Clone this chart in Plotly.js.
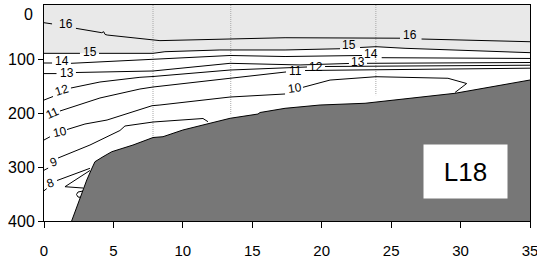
<!DOCTYPE html>
<html><head><meta charset="utf-8">
<script src="https://cdn.plot.ly/plotly-3.0.1.min.js"></script>
<style>html,body{margin:0;padding:0;background:#fff}#chart{width:537px;height:266px}</style>
</head><body><div id="chart"></div>
<script>
// axis ticks
const distanceTicks = [0, 5, 10, 15, 20, 25, 30, 35];
const depthTicks = [100, 200, 300, 400];
const depthTickText = ['100', '200', '300', '400'];
const topDepthLabel = '0';
const stationName = 'L18';

// isotherms (distance km, depth m); null = break for the contour label
const iso16X = [0, 0.58, null, 2.30, 4.16, 4.30, 4.40, 4.55, 5.96, 7.85, 8.35, 17.36, 25.64, null, 27.19, 35];
const iso16Z = [32.8, 35, null, 43.2, 51.3, 49.5, 54.5, 55.6, 59.8, 64.4, 66, 60.6, 61.5, null, 63, 68];
const iso15X = [0, 2.59, null, 3.96, 7.85, 8.71, 12.67, 17.36, 21.32, null, 22.76, 23.91, 26.0, 35];
const iso15Z = [89.5, 89.5, null, 89.5, 89.5, 86.5, 83.3, 83.3, 81, null, 78.7, 77.2, 80.2, 88.3];
const iso14X = [0, 0.58, null, 1.94, 7.85, 13.4, 17.36, 22.9, null, 24.32, 35];
const iso14Z = [107.4, 107.4, null, 108, 100.6, 93.5, 95.4, 93.5, null, 97.6, 99];
const iso13X = [0, 0.9, null, 2.3, 6.91, 7.85, 13.4, 18.44, 21.96, null, 23.26, 35];
const iso13Z = [127, 127, null, 125, 123.5, 122.2, 108, 111, 108.3, null, 108, 106.5];
const iso12X = [0, 0.65, null, 1.94, 4.03, 6.91, 7.85, 13.4, 17.36, 18.94, null, 20.24, 35];
const iso12Z = [176, 169.5, null, 153.7, 142.6, 133.9, 132.4, 120.4, 115.8, 114.8, null, 113.9, 111.5];
const iso11X = [1.15, 4.03, 6.91, 7.85, 13.4, 16.28, 17.43, null, 18.8, 35];
const iso11Z = [196.3, 172.2, 155.6, 151.9, 135.7, 127.8, 124, null, 121.3, 117];
const iso10X = [0, 0.43, null, 1.66, 2.95, 4.54, 6.91, 7.78, 8.35, 13.4, 17.36, null, 18.65, 20.6, 23.91, 29.09, 30.44, 29.6];
const iso10Z = [250, 244, null, 230.6, 220.4, 213, 194.5, 186.5, 185.2, 170.4, 164.8, null, 152.4, 139, 132.8, 135.7, 145.4, 162];
const iso9X = [0, 0.3, null, 1.01, 3.31, 5.47, 5.83, 7.85, 11.45, 11.81];
const iso9Z = [306, 302, null, 283.4, 259.3, 232.4, 224.1, 216.7, 210.2, 216.1];
const iso8X = [0, 0.2, null, 0.94, 3.31, null, 3.31, 1.51, 2.84, null, 2.81, 2.45, 2.34, 2.45, 2.74];
const iso8Z = [344, 340, null, 325, 302.4, null, 306.5, 336.5, 339, null, 344.5, 346.3, 350.9, 355.6, 356.5];

// contour labels
const labelText = ['16', '15', '14', '13', '12', '11', '10', '9', '8', '16', '15', '14', '13', '12', '11', '10'];
const labelX = [1.58, 3.28, 1.26, 1.66, 1.30, 0.61, 1.12, 0.68, 0.50, 26.36, 22.0, 23.55, 22.58, 19.59, 18.08, 18.08];
const labelZ = [34.3, 87, 103, 125, 157.4, 200, 234.6, 290.2, 329.7, 55.6, 74, 90.7, 105.6, 114.3, 122.2, 154.3];
const labelAngle = [0, 0, 0, 0, -18, -25, -12, -20, -20, 0, 0, 0, 0, 0, 0, -8];

// sea floor
const bathyX = [1.99, 2.23, 2.59, 3.08, 3.46, 3.67, 4.25, 4.88, 6.41, 7.85, 8.57, 10.0, 11.45, 13.4, 15.41, 15.56, 17.36, 19.88, 23.12, 25.13, 29.6, 35];
const bathyZ = [400, 383.4, 357.4, 324.1, 301.9, 290.2, 281, 271.7, 259.3, 245.4, 243.9, 231.5, 222.2, 209.8, 201.9, 199.1, 191.3, 185.2, 182, 176, 163.5, 138.9];

// CTD stations
const stationX = [7.85, 13.45, 23.9];
const stationDepth = [245, 204, 167];

const FONT = 'Liberation Sans, Arial, sans-serif';
const traces = [];

// warm layer (>15) shading
const f15 = iso15X.map((x, i) => [x, iso15Z[i]]).filter(p => p[0] !== null);
traces.push({x: f15.map(p => p[0]), y: f15.map(p => p[1]), mode: 'lines', fill: 'tozeroy',
  fillcolor: '#e9e9e9', line: {width: 0}, hoverinfo: 'skip'});

stationX.forEach((s, i) => {
  traces.push({x: [s, s], y: [0, stationDepth[i]], mode: 'lines',
    line: {color: '#a8a8a8', width: 1, dash: '1px,1px'}, hoverinfo: 'skip'});
});

[[iso16X, iso16Z], [iso15X, iso15Z], [iso14X, iso14Z], [iso13X, iso13Z], [iso12X, iso12Z],
 [iso11X, iso11Z], [iso10X, iso10Z], [iso9X, iso9Z], [iso8X, iso8Z]].forEach(([xs, zs]) => {
  traces.push({x: xs, y: zs, mode: 'lines', connectgaps: false,
    line: {color: '#000', width: 1}, hoverinfo: 'skip'});
});

traces.push({x: bathyX, y: bathyX.map(() => 400), mode: 'lines', line: {width: 0}, hoverinfo: 'skip'});
traces.push({x: bathyX, y: bathyZ, mode: 'lines', fill: 'tonexty', fillcolor: '#777777',
  line: {color: '#000', width: 1}, hoverinfo: 'skip'});

const annotations = labelText.map((t, i) => ({
  x: labelX[i], y: labelZ[i], xref: 'x', yref: 'y', text: t, showarrow: false,
  textangle: labelAngle[i], font: {family: FONT, size: 12, color: '#000'},
  xanchor: 'center', yanchor: 'middle'
}));
annotations.push({x: 30.39, y: 308, xref: 'x', yref: 'y', text: stationName, showarrow: false,
  font: {family: FONT, size: 26, color: '#000'}, bgcolor: '#ffffff', width: 83, height: 53,
  borderpad: 0, xanchor: 'center', yanchor: 'middle'});
annotations.push({x: 0, y: 16.7, xref: 'paper', yref: 'y', text: topDepthLabel, showarrow: false,
  font: {family: FONT, size: 16, color: '#000'}, xanchor: 'right', yanchor: 'middle', xshift: -9});

const layout = {
  width: 537, height: 266,
  margin: {l: 44, r: 7, t: 5, b: 45},
  paper_bgcolor: '#fff', plot_bgcolor: '#fff',
  showlegend: false,
  xaxis: {range: [0, 35], tickvals: distanceTicks, ticks: 'outside', ticklen: 6, tickwidth: 1,
    tickcolor: '#000', showline: true, linecolor: '#000', linewidth: 1, mirror: true,
    showgrid: false, zeroline: false, ticklabelstandoff: 10, ticklabeloverflow: 'allow',
    tickfont: {family: FONT, size: 15, color: '#000'}},
  yaxis: {range: [400, 0], tickvals: depthTicks, ticktext: depthTickText, ticks: 'outside', ticklen: 5,
    tickwidth: 1, tickcolor: '#000', showline: true, linecolor: '#000', linewidth: 1, mirror: true,
    showgrid: false, zeroline: false, ticklabeloverflow: 'allow',
    tickfont: {family: FONT, size: 16, color: '#000'}},
  annotations: annotations
};
Plotly.newPlot('chart', traces, layout, {staticPlot: true, displayModeBar: false});
</script></body></html>
